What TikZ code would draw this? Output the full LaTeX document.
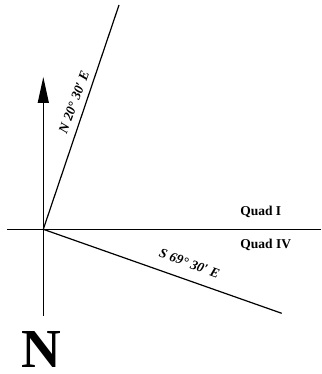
\documentclass[tikz,border=0pt]{standalone}
\usepackage{fontspec}
\setmainfont{Liberation Serif}
\usetikzlibrary{arrows.meta}
\begin{document}
\begin{tikzpicture}[x=1pt,y=-1pt,
  ln/.style={line width=1.2pt,black},
  lbl/.style={font=\fontsize{13.5}{14}\selectfont\bfseries\itshape,inner sep=1pt},
  qlbl/.style={font=\fontsize{13.5}{14}\selectfont\bfseries,inner sep=0pt}]
\useasboundingbox (0,0) rectangle (321,374);
\coordinate (O) at (43.3,229.3);
\coordinate (top) at (43.3,77);
\coordinate (bot) at (43.3,316);
\coordinate (L) at (7,229.3);
\coordinate (R) at (321,229.3);
\coordinate (ne) at (119,5);
\coordinate (se) at (281.7,313.3);
\draw[ln] (O) -- (bot);
\draw[ln,-{Triangle[length=26pt,width=11pt]}] (O) -- (top);
\draw[ln] (L) -- (R);
\draw[ln] (O) -- (ne);
\draw[ln] (O) -- (se);
\node[lbl,rotate=69.5] (nlab) at (74,102) {N 20° 30′ E};
\node[lbl,rotate=-20] (slab) at (189.5,263.5) {S 69° 30′ E};
\node[qlbl] (q1) at (260.7,211.5) {Quad I};
\node[qlbl] (q4) at (265.7,244.5) {Quad IV};
\node[font=\fontsize{55}{55}\selectfont\bfseries,inner sep=0pt] (N) at (41.5,349) {N};
\end{tikzpicture}
\end{document}
